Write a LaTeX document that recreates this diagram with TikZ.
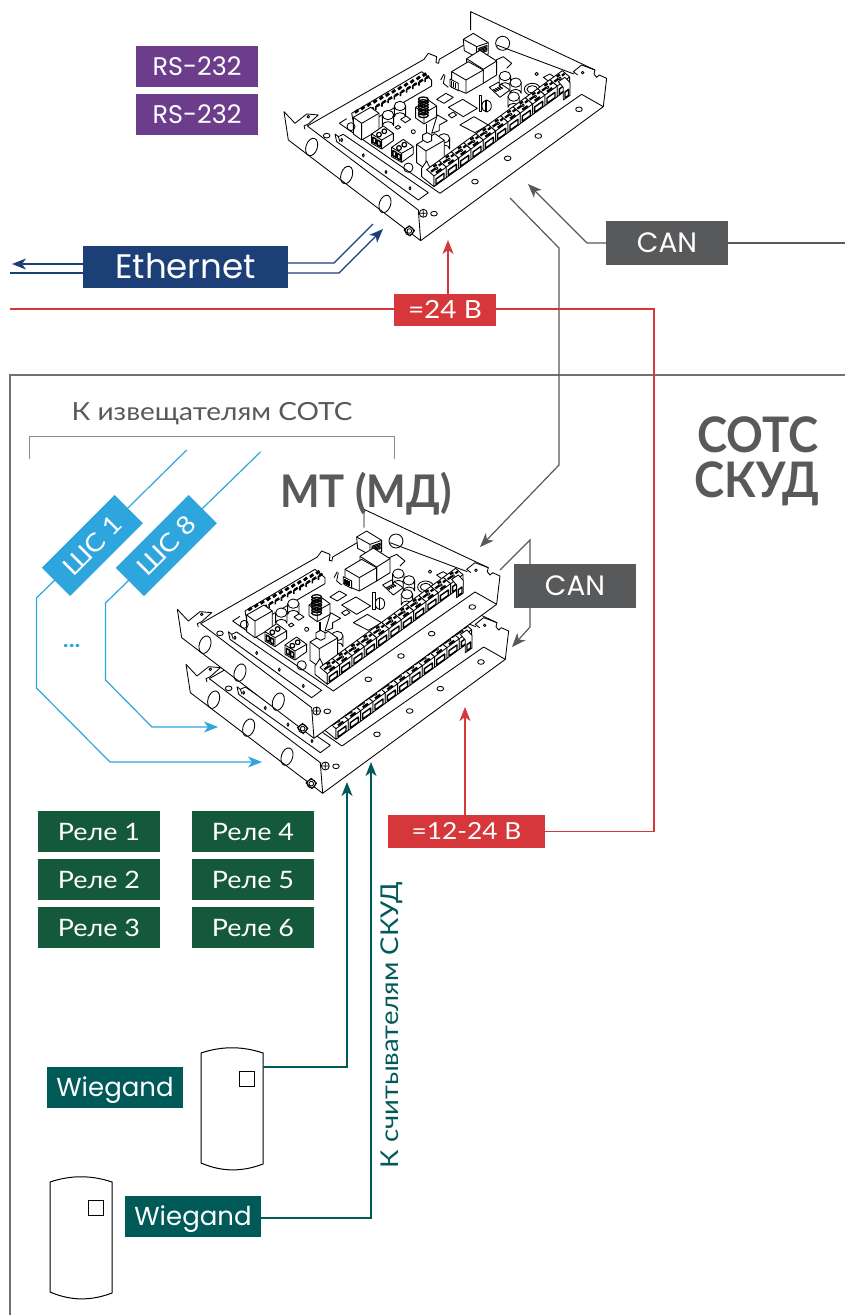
\documentclass[tikz,border=0pt]{standalone}
\usepackage{fontspec}
\usetikzlibrary{arrows.meta,calc}
\setmainfont[FakeStretch=1.12]{Lato}
\newfontfamily\latin{Poppins}
\newfontfamily\heavy[FakeStretch=0.93]{Lato}
\definecolor{cPurple}{HTML}{6B3D8A}
\definecolor{cNavy}{HTML}{1C3F77}
\definecolor{cRed}{HTML}{D5373B}
\definecolor{cGray}{HTML}{58595B}
\definecolor{cSky}{HTML}{2EA6DD}
\definecolor{cGreen}{HTML}{14593A}
\definecolor{cTeal}{HTML}{005A58}
\tikzset{
  lbl/.style={inner sep=0pt,outer sep=0pt,text=white,anchor=center,text depth=0pt},
  fs/.style={font=\fontsize{#1}{#1}\selectfont,text height=0.71*#1pt},
  lfs/.style={font=\latin\fontsize{#1}{#1}\selectfont,text height=0.7*#1pt},
  hfs/.style={font=\heavy\bfseries\fontsize{#1}{#1}\selectfont,text height=0.72*#1pt},
  tag/.style={lbl,minimum width=122pt,minimum height=41pt,fs=24},
  wire/.style={line width=1pt},
  tipped/.style={-{Stealth[length=14pt,width=11pt,inset=4pt]}},
  ink/.style={line width=1.9pt,draw=black,line join=round},
  inkthin/.style={line width=.85pt,draw=black,line join=round},
}
% all board macros are in units of 1/3 px
\newcommand\tblock[2]{%
  \begin{scope}[shift={(#1,#2)}]
    \filldraw[fill=white,inkthin] (0,0)--(37,-27)--(37,-59)--(15,-78)--(-22,-51)--(0,-32)--cycle;
    \draw[inkthin] (0,-32)--(37,-59);
    \draw[inkthin,line width=1.4pt] (6,-7)--(30,-24)--(30,-40)--(6,-23)--cycle;
    \draw[ink,line width=2.2pt] (-9,-45)--(4,-54) (14,-63)--(22,-69) (-2,-60)--(8,-66) (6,-42)--(22,-53);
    \draw[inkthin] (8,-55) circle (4);
  \end{scope}}
\newcommand\frontrow{%
  \filldraw[fill=white,inkthin] (462,560)--(425,530)--(425,505)--(440,483)--(462,528)--cycle;
  \foreach \i in {0,...,10} {\tblock{462+\i*37}{560-\i*27}}
  \filldraw[fill=white,inkthin] (850,300)--(870,286)--(870,248)--(855,232)--(835,245)--(850,262)--cycle;
  \draw[inkthin,line width=1.4pt] (855,294)--(866,286)--(866,268)--(855,276)--cycle;
}
\newcommand\cyl[2]{%
  \begin{scope}[shift={(#1,#2)}]
    \filldraw[fill=white,inkthin] (-17,0)--(-17,32) arc[start angle=180,end angle=360,x radius=17,y radius=12]--(17,0)--cycle;
    \filldraw[fill=white,inkthin] (0,0) ellipse[x radius=17,y radius=14];
  \end{scope}}
\newcommand\cuboid[7]{% corner, u-vector, v-vector, height
  \filldraw[fill=white,inkthin] (#1,#2)--++(#3,#4)--++(0,-#7)--++(#5,#6)--++(-#3,-#4)--++(0,#7)--cycle;
  \draw[inkthin] (#1,#2)--++(0,-#7)--++(#3,#4) ++(-#3,-#4)--++(#5,#6);
}
\newcommand\caseboard{%
  \fill[white] (12,335)--(25,420)--(422,722)--(970,320)--(980,232)--(572,35)--(572,100)--(82,378)--cycle;
  \draw[inkthin] (12,335)--(45,370)--(80,342)--(115,345)--(85,372)--(72,378)--(75,388);
  \draw[inkthin] (12,335)--(25,420)--(422,722)--(970,320)--(980,235)--(958,225)--(950,232)--(942,222)--(945,210)--(572,35)--(572,90);
  \draw[inkthin] (945,210)--(905,195)--(880,215)--(893,225);
  \draw[inkthin] (82,378)--(415,630)--(422,722);
  \draw[inkthin] (82,378)--(432,178)--(445,160)--(470,170)--(468,188)--(476,190)--(478,178)--(555,133);
  \draw[inkthin] (650,135)--(882,222);
  \draw[inkthin] (905,283)--(970,320);
  \draw[inkthin] (178,370)--(480,580)--(905,283);
  \draw[inkthin] (178,370)--(200,356);
  \foreach \x/\y in {95/441,200/525,315/612}
    \draw[inkthin] (\x,\y) ellipse[x radius=17,y radius=27,rotate=-18];
  \foreach \x/\y in {140/407,683/475,775/408,897/328,585/545,462/641}
    \draw[inkthin] (\x,\y) ellipse[x radius=10,y radius=7];
  \draw[inkthin] (85,350) circle (4) (908,218) circle (4);
  \draw[inkthin] (430,640) circle (12) (421,640)--(439,640) (430,631)--(430,649);
  \filldraw[fill=white,inkthin] (372,690)--(388,677)--(404,692)--(390,708)--cycle;
  \draw[inkthin] (388,693) circle (13) (388,693) circle (7);
  % strip on the left wall
  \draw[inkthin] (165,402)--(170,425)--(415,600)--(445,578)--(190,403)--(175,410)--(165,402);
  \draw[inkthin] (175,410)--(180,425);
  \foreach \x/\y in {185/420,250/466,318/516,390/565}
    \draw[inkthin] (\x,\y) ellipse[x radius=3,y radius=5];
}
\newcommand\boardparts{%
  % rear terminal row
  \filldraw[fill=white,inkthin] (215,340)--(425,215)--(455,240)--(455,258)--(225,392)--cycle;
  \foreach \i in {0,...,11} {
    \draw[line width=2.8pt,draw=black] ($(225,338)+\i*(18.5,-10)$)--++(10,-8);
    \draw[line width=2.4pt,draw=black] ($(234,350)+\i*(18.5,-10.5)$)--++(10,-6);
    \draw[line width=1.6pt,draw=black] ($(232,362)+\i*(18.5,-10.5)$)--++(0,-10)--++(7,-4);
  }
  % data jack, transformers
  \filldraw[fill=white,inkthin] (550,118)--(580,100)--(625,128)--(625,162)--(590,172)--(553,152)--cycle;
  \draw[inkthin] (550,118)--(590,140)--(625,128) (590,140)--(590,172);
  \foreach \i in {0,...,4} \draw[inkthin,line width=1.1pt] (595,146+\i*4)--(622,136+\i*4);
  \draw[inkthin] (668,130) circle (21);
  \cuboid{610}{250}{40}{-25}{-50}{-32}{42}
  \filldraw[fill=white,inkthin] (515,262)--(515,215)--(565,185)--(610,210)--(610,250)--(558,280)--cycle;
  \draw[inkthin] (515,215)--(558,240)--(610,210) (558,240)--(558,280);
  \draw[inkthin] (495,225)--(490,250)--(505,262) (482,240)--(492,222);
  % chips
  \draw[inkthin] (505,322)--(548,298)--(592,325)--(550,350)--cycle;
  \draw[inkthin] (540,375)--(582,350)--(625,375)--(585,398)--cycle;
  % small parts
  \filldraw[fill=white,inkthin] (510,237)--(535,250)--(535,272)--(510,258)--cycle;
  \foreach \i in {0,1,2} \draw[ink,line width=1.2pt] (515+\i*6,244+\i*3)--++(0,14);
  \filldraw[fill=white,inkthin] (470,298)--(498,280)--(520,292)--(492,310)--cycle;
  \filldraw[fill=white,inkthin] (597,285)--(605,285)--(605,335)--(597,335)--cycle;
  \filldraw[fill=white,inkthin] (620,318) ellipse[x radius=14,y radius=18];
  \draw[ink,line width=1.2pt] (618,300)--(618,336);
  \filldraw[fill=white,inkthin] (628,262)--(655,247)--(690,270)--(660,292)--cycle;
  \foreach \i in {0,...,3} \draw[ink,line width=1.4pt] (640+\i*6,268-\i*3)--++(10,7);
  \filldraw[fill=white,inkthin] (757,268) ellipse[x radius=24,y radius=18];
  \draw[inkthin] (757,268) ellipse[x radius=16,y radius=11];
  \draw[inkthin] (770,222) circle (5) (790,232)--(810,222)--(825,232)--(805,243)--cycle;
  \draw[inkthin] (648,180)--(670,170)--(695,190)--(680,205);
  \cyl{675}{228}\cyl{707}{248}\cyl{701}{290}
  \cyl{360}{318}\cyl{324}{345}\cyl{492}{415}
  % relays
  \cuboid{245}{420}{52}{-30}{-25}{-18}{50}
  \cuboid{438}{508}{55}{-32}{-28}{-20}{55}
  \cuboid{432}{372}{38}{-22}{-25}{-18}{32}
  \filldraw[fill=white,inkthin] (472,345)--(502,362)--(478,375)--(478,392)--(455,400)--cycle;
  % coil
  \foreach \i in {0,...,6} \draw[inkthin,line width=1.3pt] (430,298+\i*8) ellipse[x radius=15,y radius=7];
  \filldraw[fill=white,inkthin] (428,405)--(442,398)--(455,405)--(455,422)--(442,428)--(428,420)--cycle;
  \draw[ink,line width=1.4pt] (440,372)--(440,400);
  % green 2-pole blocks
  \foreach \x/\y in {275/430,335/470} {
    \begin{scope}[shift={(\x,\y)}]
      \filldraw[fill=white,inkthin] (0,0)--(30,17)--(65,-8)--(65,-30)--(35,-52)--(0,-28)--cycle;
      \draw[inkthin] (0,-28)--(30,-10)--(65,-30) (30,-10)--(30,17);
      \draw[ink,line width=1.5pt] (4,-18)--(13,-13)--(13,2)--(4,-3)--cycle (17,-10)--(26,-5)--(26,10)--(17,5)--cycle;
      \draw[inkthin,line width=1.2pt] (22,-26) circle (7) (38,-36) circle (7);
    \end{scope}}
  \filldraw[fill=white,inkthin] (362,358)--(378,348)--(392,358)--(376,368)--cycle;
  \filldraw[fill=white,inkthin] (505,345)--(520,336)--(530,345)--(515,354)--cycle;
  \filldraw[fill=white,inkthin] (345,382)--(355,376)--(362,382)--(352,388)--cycle;
  \filldraw[fill=white,inkthin] (400,395) circle (6);
  \draw[inkthin] (213,380) circle (12) (385,503) circle (14);
  \frontrow
}
\begin{document}
\begin{tikzpicture}[x=1pt,y=-1pt]
\useasboundingbox (0,0) rectangle (845,1315);
\fill[white] (0,0) rectangle (845,1315);

% frame
\draw[cGray!85,line width=1.4pt] (845,375)--(10,375)--(10,1315);

% ---- boards
\begin{scope}[shift={(280,0)},x=.3333pt,y=-.3333pt]
  \caseboard\boardparts
\end{scope}
\begin{scope}[shift={(182,552.67)},x=.3333pt,y=-.3333pt]
  \caseboard\frontrow
\end{scope}
\begin{scope}[shift={(173.33,497.67)},x=.3333pt,y=-.3333pt]
  \caseboard\boardparts
\end{scope}

% ---- readers
\foreach \dx/\dy in {0/0,-151/129}{
\begin{scope}[shift={(\dx,\dy)}]
  \filldraw[fill=white,draw=black,line width=1pt] (201,1053) .. controls (222,1046) and (242,1046) .. (263,1053)
     -- (263,1164) .. controls (242,1172) and (222,1172) .. (201,1163) -- cycle;
  \draw[draw=black,line width=1pt] (239.5,1071) rectangle (254.5,1086);
\end{scope}}

% ---- labels
\node[tag,fill=cPurple,lfs=25.5] (rs1) at (197,66.5) {RS-232};
\node[tag,fill=cPurple,lfs=25.5] (rs2) at (197,114.5) {RS-232};
\node[lbl,fill=cNavy,minimum width=205pt,minimum height=42pt,lfs=34] (eth) at (185.5,267) {Ethernet};
\node[tag,fill=cGray,minimum height=44pt,lfs=28] (can1) at (667,243) {CAN};
\node[lbl,fill=cRed,minimum width=102pt,minimum height=32pt,fs=25] (p24) at (445,310) {=24 В};
\node[tag,fill=cGray,minimum height=44pt,lfs=28] (can2) at (575,586) {CAN};
\node[lbl,fill=cRed,minimum width=157pt,minimum height=33pt,fs=23.5] (p12) at (466.5,831.5) {=12-24 В};
\node[tag,fill=cGreen] (r1) at (99,831.5) {Реле 1};
\node[tag,fill=cGreen] (r2) at (99,879.5) {Реле 2};
\node[tag,fill=cGreen] (r3) at (99,927.5) {Реле 3};
\node[tag,fill=cGreen] (r4) at (253,831.5) {Реле 4};
\node[tag,fill=cGreen] (r5) at (253,879.5) {Реле 5};
\node[tag,fill=cGreen] (r6) at (253,927.5) {Реле 6};
\node[lbl,fill=cTeal,minimum width=136pt,minimum height=41pt,lfs=26] (w1) at (115,1087.5) {Wiegand};
\node[lbl,fill=cTeal,minimum width=136pt,minimum height=41pt,lfs=26] (w2) at (193,1216.5) {Wiegand};

\node[lbl,text=cGray,fs=25] (tocots) at (212,412) {К извещателям СОТС};
\node[lbl,text=cGray,anchor=east,hfs=49] (sots) at (819,435) {СОТС};
\node[lbl,text=cGray,anchor=east,hfs=49] (skud) at (819,480) {СКУД};
\node[lbl,text=cGray,hfs=45] (mt) at (366,491) {МТ (МД)};
\node[lbl,text=cTeal,rotate=90,fs=24.5] (toread) at (390,1025) {К считывателям СКУД};

% ---- free ends
\coordinate (ethLa) at (12,264);
\coordinate (ethLb) at (10,273);
\coordinate (ethRa) at (373,224);
\coordinate (ethRb) at (383,229);
\coordinate (canIn) at (528,184);
\coordinate (canOff) at (845,243);
\coordinate (busA) at (510,198);
\coordinate (busB) at (480,547);
\coordinate (mdA) at (500,570);
\coordinate (mdB) at (512,647);
\coordinate (pwrL) at (10,309);
\coordinate (pwrTop) at (448,240);
\coordinate (pwrMd) at (465,707);
\coordinate (sh1s) at (186.7,450);
\coordinate (sh8s) at (260.7,451.7);
\coordinate (sh1e) at (262,762);
\coordinate (sh8e) at (218,727);
\coordinate (rd1) at (263,1067);
\coordinate (rdA) at (347,782);
\coordinate (rdB) at (371,762);

% ---- connectors
\begin{scope}[cNavy,wire,line width=1.2pt]
  \draw[{Stealth[length=14pt,width=11pt,inset=4pt]}-] (ethLa)--(ethLa-|eth.west);
  \draw (ethLb)--(ethLb-|eth.west);
  \draw (eth.east|-0,263)--(334,263)--(ethRa);
  \draw[tipped] (eth.east|-0,273)--(339,273)--(ethRb);
\end{scope}
\begin{scope}[cGray,wire,line width=1.2pt]
  \draw[tipped] (can1.west)--(587,243)--(canIn);
  \draw (canOff)--(can1.east);
  \draw[tipped] (busA)--(559,248)--(559,465)--(busB);
  \draw (mdA)--(530,540)--(530,564) (530,608)--(530,627);
  \draw[tipped] (530,627)--(mdB);
\end{scope}
\begin{scope}[cRed,wire,line width=1.1pt]
  \draw (pwrL)--(pwrL-|p24.west);
  \draw (p24.east|-pwrL)--(654,309)--(654,831.5)--(p12.east);
  \draw[tipped] (448,294)--(pwrTop);
  \draw[tipped] (465,815)--(pwrMd);
\end{scope}
\begin{scope}[cTeal,wire,line width=1.2pt]
  \draw[tipped] (rd1)--(347,1067)--(rdA);
  \draw[tipped] (w2.east|-0,1218)--(371,1218)--(rdB);
\end{scope}
\begin{scope}[cSky,wire,line width=1.2pt]
  \draw[tipped] (sh1s)--(36.5,598)--(36.5,688)--(110,762)--(sh1e);
  \draw[tipped] (sh8s)--(105.5,603)--(105.5,680)--(152,727)--(sh8e);
\end{scope}
% bracket
\draw[cGray!70,line width=1pt] (29,459)--(29,436)--(394,436)--(394,459);

\node[lbl,fill=cSky,rotate=45,minimum width=103pt,minimum height=40pt,fs=25] (sh1) at (92.4,545.5) {ШС 1};
\node[lbl,fill=cSky,rotate=45,minimum width=103pt,minimum height=40pt,fs=25] (sh8) at (166.3,545.5) {ШС 8};
\node[lbl,text=cSky,font=\bfseries\fontsize{22}{22}\selectfont,text height=4pt] (dots) at (71.7,645.5) {...};
\end{tikzpicture}
\end{document}
